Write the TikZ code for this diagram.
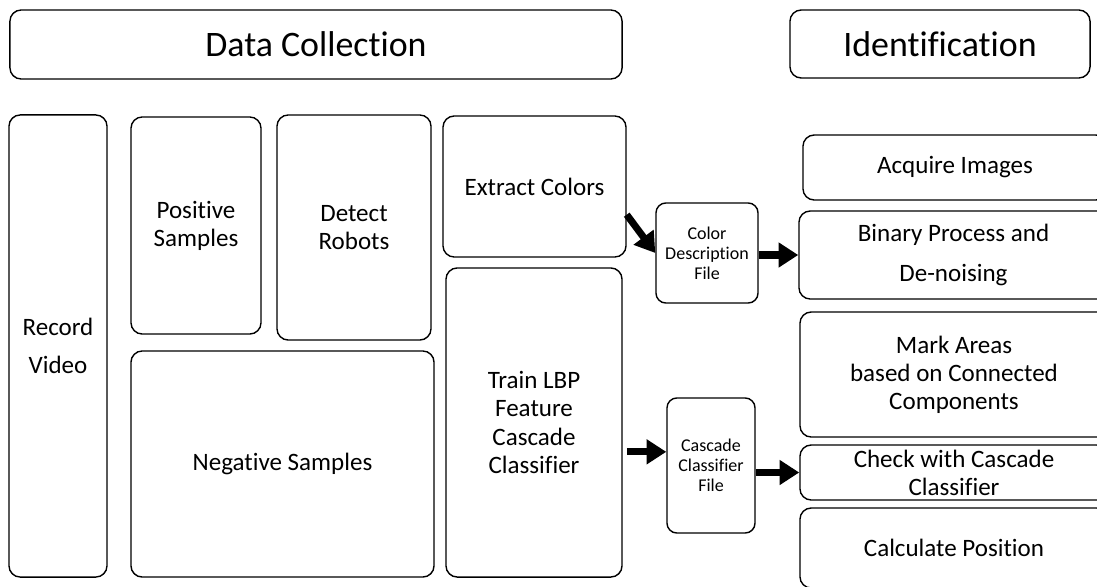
\documentclass[tikz,border=0pt]{standalone}
\usepackage{fontspec}
\setmainfont{Carlito}[Ligatures={NoCommon}]
\usepackage{tikz}
\usetikzlibrary{arrows.meta}
\usetikzlibrary{positioning}
\tikzset{
box/.style = { rectangle, draw = black, line width = 1pt, fill = white, rounded corners = 8pt, inner sep = 1pt, align = center, font = \fontsize{17.8}{20}\selectfont },
head box/.style = { box, font = \fontsize{25.5}{28}\selectfont },
file box/.style = { box, rounded corners = 7pt, font = \fontsize{12.8}{14.2}\selectfont },
flow/.style = { draw = black, line width = 5pt, -{Triangle[length = 14pt, width = 17pt]} },
}

\begin{document}
\begin{tikzpicture}[x=0.025cm, y=-0.025cm]
      \clip (0,0) rectangle (1097,586);
      % headings
      \node[head box, minimum width = 15.3cm, minimum height = 1.725cm] (dc) at (316,44.5) {Data Collection};
      \node[head box, minimum width = 7.5cm, minimum height = 1.7cm] (idt) at (940,44) {Identification};
      % data collection
      \begin{scope}
        \node[box, minimum width = 2.45cm, minimum height = 11.55cm] (rec) at (58,346) {Record\\[7pt]Video};
        \node[box, minimum width = 3.25cm, minimum height = 5.425cm] (pos) at (196,225.5) {Positive\\Samples};
        \node[box, minimum width = 3.85cm, minimum height = 5.625cm] (det) at (354,227.5) {Detect\\Robots};
        \node[box, minimum width = 7.575cm, minimum height = 5.65cm] (neg) at (282.5,464) {Negative Samples};
        \node[box, minimum width = 4.575cm, minimum height = 3.525cm] (ext) at (534.5,186.5) {Extract Colors};
        \node[box, minimum width = 4.4cm, minimum height = 7.725cm] (trn) at (534,422.5) {Train LBP\\Feature\\Cascade\\Classifier};
      \end{scope}
      % files
      \node[file box, minimum width = 2.55cm, minimum height = 2.5cm] (cdf) at (707,253) {Color\\Description\\File};
      \node[file box, minimum width = 2.2cm, minimum height = 3.375cm] (ccf) at (711,465.5) {Cascade\\Classifier\\File};
      % identification
      \begin{scope}[every node/.append style={rounded corners = 7pt}]
        \node[box, minimum width = 7.6cm, minimum height = 1.625cm] (acq) at (955,167.5) {Acquire Images};
        \node[box, minimum width = 7.725cm, minimum height = 2.2cm] (bin) at (953.5,255) {Binary Process and\\[8pt]De-noising};
        \node[box, minimum width = 7.7cm, minimum height = 3.125cm] (mrk) at (954,374.5) {Mark Areas\\based on Connected\\Components};
        \node[box, minimum width = 7.7cm, minimum height = 1.375cm] (chk) at (954,472.5) {Check with Cascade\\Classifier};
        \node[box, minimum width = 7.7cm, minimum height = 2.0cm] (cal) at (954,548) {Calculate Position};
      \end{scope}
      % arrows
      \draw[flow] (ext.-17) -- (cdf.west);
      \draw[flow] (cdf.east |- bin.west) -- (bin.west);
      \draw[flow, shorten <= 3pt] (trn.east |- ccf.163) -- (ccf.163);
      \draw[flow] (ccf.east |- chk.west) -- (chk.west);
    \end{tikzpicture}
\end{document}
